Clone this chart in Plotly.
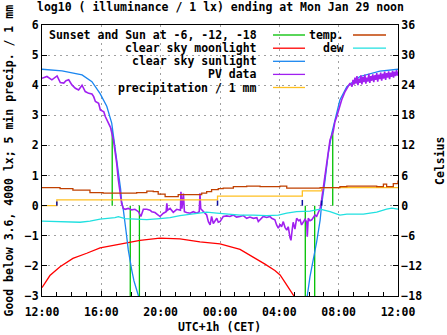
import pandas as pd
import plotly.graph_objects as go

# ---------------- data (minutes after Sun Jan 28 12:00 CET) ----------------
pv_min = [0, 20, 40, 61, 74, 88, 97, 108, 121, 135, 148, 162, 175, 189, 202, 209, 216, 229, 236, 250,
          256, 270, 277, 289, 298, 302, 309, 316, 322, 329, 336, 349, 363, 376, 390, 400, 410, 424, 437, 444,
          457, 470, 477, 491, 502, 505, 508, 518, 531, 545, 560, 562, 566, 572, 576, 585, 599, 612, 626, 636,
          639, 642, 652, 666, 673, 680, 686, 693, 707, 713, 720, 733, 747, 760, 774, 787, 801, 814, 828, 841,
          855, 869, 875, 888, 895, 909, 922, 929, 942, 949, 956, 963, 969, 976, 983, 990, 996, 1003, 1007, 1012,
          1016, 1023, 1030, 1038, 1044, 1050, 1057, 1064, 1071, 1073, 1077, 1084, 1091, 1098, 1104, 1111, 1118, 1125, 1131, 1138,
          1145, 1152, 1158, 1165, 1178, 1185, 1192, 1199, 1212, 1226, 1238, 1246, 1254,
          1258, 1262, 1266, 1270, 1274, 1278, 1282, 1286, 1290, 1294, 1298, 1302, 1306, 1310, 1314, 1318, 1322, 1326,
          1330, 1334, 1338, 1342, 1346, 1350, 1354, 1358, 1362, 1366, 1370, 1374, 1378, 1382, 1386, 1390, 1394, 1398,
          1402, 1406, 1410, 1414, 1418, 1422, 1426, 1430, 1434, 1438, 1440]
pv_val = [4.23, 4.29, 4.18, 4.31, 4.09, 4.07, 4.15, 4.18, 4.01, 3.90, 3.84, 4.00, 3.79, 3.73, 3.71, 3.62, 3.46, 3.40, 3.18, 3.12,
          2.96, 2.74, 2.60, 2.18, 1.74, 1.42, 0.85, 0.41, 0.08, -0.09, -0.12, -0.09, -0.14, -0.12, -0.20, -0.36, -0.12, -0.12, -0.15, -0.20,
          -0.23, -0.31, -0.36, -0.25, -0.20, 0.08, -0.15, -0.09, -0.22, -0.12, -0.15, 0.46, -0.10, 0.40, -0.20, -0.23, -0.25, -0.20, -0.25, -0.20,
          0.41, -0.10, -0.20, -0.31, -0.53, -0.64, -0.36, -0.59, -0.42, -0.55, -0.53, -0.36, -0.34, -0.36, -0.31, -0.38, -0.36, -0.33, -0.42, -0.38,
          -0.42, -0.40, -0.53, -0.42, -0.36, -0.39, -0.36, -0.42, -0.47, -0.64, -0.75, -0.62, -0.70, -0.53, -0.72, -0.81, -0.70, -1.05, -1.15, -0.80,
          -0.55, -0.78, -0.42, -0.50, -0.47, -0.64, -0.53, -0.45, -0.55, -1.03, -0.42, -0.50, -0.47, -0.40, -0.31, -0.35, -0.20, -0.09, 0.19, 0.63,
          1.08, 1.52, 1.85, 2.18, 2.46, 2.79, 2.95, 3.18, 3.51, 3.79, 3.98, 4.07, 3.95,
          4.18, 4.02, 4.25, 4.05, 4.30, 4.00, 4.22, 4.08, 4.33, 4.03, 4.28, 4.10, 4.35, 4.05, 4.25, 4.12, 4.38, 4.08,
          4.30, 4.15, 4.36, 4.10, 4.33, 4.18, 4.40, 4.12, 4.35, 4.20, 4.42, 4.15, 4.38, 4.22, 4.45, 4.18, 4.40, 4.25,
          4.46, 4.20, 4.42, 4.28, 4.48, 4.25, 4.45, 4.30, 4.50, 4.32, 4.45]

sun_min = [0, 81, 162, 202, 235, 262, 282, 295, 309, 318, 322, 329, 340, 349, 363, 372, 383, 394, None,
           1070, 1073, 1084, 1098, 1111, 1125, 1131, 1145, 1158, 1172, 1185, 1205, 1233, 1286, 1367, 1440]
sun_val = [4.53, 4.48, 4.34, 4.12, 3.72, 3.30, 2.74, 2.00, 1.19, 0.55, 0.15, -0.14, -0.85, -1.47, -2.14, -2.50, -2.80, -3.10, None,
           -3.10, -3.00, -2.36, -1.80, -1.20, -0.48, 0.02, 0.85, 1.74, 2.40, 2.85, 3.51, 3.95, 4.29, 4.47, 4.53]

moon_min = [0, 32, 73, 125, 181, 235, 316, 396, 477, 558, 639, 720, 801, 853, 902, 942, 963, 983, 1003, 1023]
moon_val = [-2.72, -2.32, -2.03, -1.75, -1.58, -1.40, -1.28, -1.15, -1.08, -1.10, -1.20, -1.27, -1.45, -1.69, -1.94,
            -2.15, -2.30, -2.55, -2.80, -3.05]

temp_min = [0, 32, 73, 125, 194, 247, 316, 383, 424, 450, 470, 498, 531, 551, 585, 619, 646, 666, 686, 713,
            733, 760, 774, 828, 882, 963, 990, 1044, 1084, 1125, 1165, 1205, 1233, 1300, 1354, 1381, 1394, 1421, 1440]
temp_c = [3.6, 3.6, 3.4, 3.1, 2.6, 2.5, 2.5, 2.6, 2.9, 2.8, 2.3, 1.8, 1.8, 2.2, 2.2, 2.2, 2.5, 2.8, 3.2, 3.4,
          3.5, 3.5, 3.8, 3.9, 3.8, 3.9, 3.5, 3.5, 3.5, 3.6, 3.6, 3.8, 3.9, 3.9, 3.8, 4.3, 3.8, 4.4, 5.0]

dew_min = [0, 73, 154, 194, 235, 295, 309, 336, 376, 424, 477, 518, 558, 599, 639, 666, 707, 733, 801, 855,
           909, 956, 990, 1030, 1084, 1125, 1165, 1205, 1233, 1300, 1354, 1394, 1415, 1440]
dew_c = [-3.1, -3.2, -3.3, -3.1, -2.7, -2.4, -2.2, -2.6, -2.7, -2.8, -2.6, -2.4, -2.0, -1.7, -1.5, -1.3, -1.5, -1.6, -1.9, -1.9,
         -2.0, -1.9, -1.5, -1.2, -1.1, -0.7, -1.2, -1.9, -1.7, -1.7, -1.3, -0.7, -0.5, -0.7]

event_min = [284, 357, 394, 1065, 1103, 1176]   # sunset/sunrise and sun at -6, -12, -18
event_val = [2.58, -3.0, -3.0, -3.0, -3.0, 2.55]

precip_min = [0, 60, 710, 1053, 1131, 1440]
precip_val = [0.0, 0.19, 0.32, 0.49, 0.60, 0.60]

precip5_min = [60, 710, 1053, 1131]
precip5_val = [0.14, 0.17, 0.19, 0.17]

x_tick_labels = ["12:00", "16:00", "20:00", "00:00", "04:00", "08:00", "12:00"]

# ---------------- helpers ----------------
base = pd.Timestamp("2024-01-28 12:00")


def tm(mins):
    return [None if m is None else base + pd.Timedelta(minutes=m) for m in mins]


def impulses(mins, vals):
    xs, ys = [], []
    for m, v in zip(mins, vals):
        xs += [m, m, None]
        ys += [0, v, None]
    return tm(xs), ys


C_GREEN = "#00c000"
C_TEMP = "#c04000"
C_MOON = "#ff0000"
C_DEW = "#20e0e0"
C_SUN = "#1a86f0"
C_PV = "#a020f0"
C_PREC = "#ffc020"
C_P5 = "#1010a0"

FONT = "DejaVu Sans Mono"

fig = go.Figure()

ex, ey = impulses(event_min, event_val)
fig.add_trace(go.Scatter(x=ex, y=ey, mode="lines", line=dict(color=C_GREEN, width=1.3), showlegend=False))
fig.add_trace(go.Scatter(x=tm(temp_min), y=temp_c, yaxis="y2", mode="lines",
                         line=dict(color=C_TEMP, width=1.3, shape="hv"), showlegend=False))
fig.add_trace(go.Scatter(x=tm(moon_min), y=moon_val, mode="lines", line=dict(color=C_MOON, width=1.3), showlegend=False))
fig.add_trace(go.Scatter(x=tm(dew_min), y=dew_c, yaxis="y2", mode="lines",
                         line=dict(color=C_DEW, width=1.3), showlegend=False))
fig.add_trace(go.Scatter(x=tm(sun_min), y=sun_val, mode="lines", line=dict(color=C_SUN, width=1.3), showlegend=False))
fig.add_trace(go.Scatter(x=tm(pv_min), y=pv_val, mode="lines", line=dict(color=C_PV, width=1.6), showlegend=False))
fig.add_trace(go.Scatter(x=tm(precip_min), y=precip_val, mode="lines",
                         line=dict(color=C_PREC, width=1.3, shape="hv"), showlegend=False))
px_, py_ = impulses(precip5_min, precip5_val)
fig.add_trace(go.Scatter(x=px_, y=py_, mode="lines", line=dict(color=C_P5, width=1.5), showlegend=False))

# ---------------- layout geometry ----------------
W, H = 447, 335
L, R, T, B = 42, 49, 25, 39
PW, PH = W - L - R, H - T - B


def xp(px):
    return (px - L) / PW


def yp(py):
    return (H - B - py) / PH


tick_font = dict(family=FONT, size=11.5, color="black", weight="bold")
grid = dict(showgrid=True, gridcolor="#a0a0a0", griddash="2px,4px", gridwidth=1)

fig.update_layout(
    width=W, height=H,
    margin=dict(l=L, r=R, t=T, b=B),
    paper_bgcolor="white", plot_bgcolor="white",
    font=dict(family=FONT, size=11.5, color="black", weight="bold"),
    showlegend=False,
    xaxis=dict(
        type="date",
        range=[base, base + pd.Timedelta(hours=24)],
        tickvals=tm([0, 240, 480, 720, 960, 1200, 1440]),
        ticktext=x_tick_labels,
        ticks="inside", ticklen=5, tickcolor="black",
        ticklabelstandoff=5,
        minor=dict(dtick=3600000, tick0=base, ticks="inside", ticklen=4, tickcolor="black", showgrid=False),
        showline=True, linecolor="black", linewidth=1, mirror=True,
        tickfont=tick_font, zeroline=False, **grid,
    ),
    yaxis=dict(
        range=[-3, 6], dtick=1, tick0=0,
        ticks="inside", ticklen=5, tickcolor="black",
        showline=True, linecolor="black", linewidth=1,
        tickfont=tick_font, zeroline=False, **grid,
    ),
    yaxis2=dict(
        overlaying="y", side="right",
        range=[-18, 36], dtick=6, tick0=0,
        ticks="inside", ticklen=5, tickcolor="black",
        showline=True, linecolor="black", linewidth=1,
        showgrid=False, zeroline=False, tickfont=tick_font,
    ),
)

shapes = [
    # opaque key background
    dict(type="rect", xref="paper", yref="paper", x0=xp(L + 0.5), x1=xp(312), y0=yp(92), y1=yp(T + 0.5),
         fillcolor="white", line=dict(width=0), layer="between"),
    dict(type="rect", xref="paper", yref="paper", x0=xp(312), x1=xp(392), y0=yp(54), y1=yp(T + 0.5),
         fillcolor="white", line=dict(width=0), layer="between"),
]

key_left = [("Sunset and Sun at -6, -12, -18", C_GREEN), ("clear sky moonlight", C_MOON),
            ("clear sky sunlight", C_SUN), ("PV data", C_PV), ("precipitation / 1 mm", C_PREC)]
key_right = [("temp.", C_TEMP), ("dew", C_DEW)]
rows = [35, 48.2, 61.3, 74.4, 87.5]

annotations = []
for (label, col), ry in zip(key_left, rows):
    annotations.append(dict(text=label, xref="paper", yref="paper", x=xp(259), y=yp(ry),
                            xanchor="right", yanchor="middle", showarrow=False,
                            font=dict(family=FONT, size=11.5, color="black", weight="bold")))
    shapes.append(dict(type="line", xref="paper", yref="paper", x0=xp(273), x1=xp(305), y0=yp(ry), y1=yp(ry),
                       line=dict(color=col, width=1.3)))
for (label, col), ry in zip(key_right, rows):
    annotations.append(dict(text=label, xref="paper", yref="paper", x=xp(346), y=yp(ry),
                            xanchor="right", yanchor="middle", showarrow=False,
                            font=dict(family=FONT, size=11.5, color="black", weight="bold")))
    shapes.append(dict(type="line", xref="paper", yref="paper", x0=xp(353), x1=xp(386), y0=yp(ry), y1=yp(ry),
                       line=dict(color=col, width=1.3)))

annotations += [
    dict(text="log10 ( illuminance / 1 lx) ending at Mon Jan 29 noon", xref="paper", yref="paper",
         x=xp(220), y=yp(7), xanchor="center", yanchor="middle", showarrow=False,
         font=dict(family=FONT, size=11.5, color="black", weight="bold")),
    dict(text="Good below 3.6, 4000 lx; 5 min precip. / 1 mm", xref="paper", yref="paper",
         x=xp(8), y=yp(160.5), xanchor="center", yanchor="middle", textangle=-90, showarrow=False,
         font=dict(family=FONT, size=11.5, color="black", weight="bold")),
    dict(text="Celsius", xref="paper", yref="paper",
         x=xp(440), y=yp(161), xanchor="center", yanchor="middle", textangle=-90, showarrow=False,
         font=dict(family=FONT, size=11.5, color="black", weight="bold")),
    dict(text="UTC+1h (CET)", xref="paper", yref="paper",
         x=xp(219), y=yp(327), xanchor="center", yanchor="middle", showarrow=False,
         font=dict(family=FONT, size=11.5, color="black", weight="bold")),
]

fig.update_layout(shapes=shapes, annotations=annotations)
fig.write_html("out.html")
